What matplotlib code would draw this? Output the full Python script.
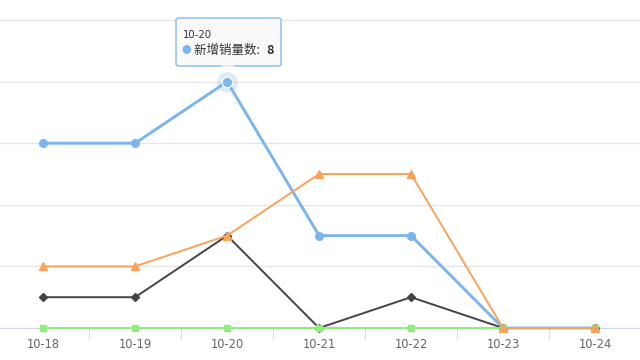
import matplotlib.pyplot as plt
from matplotlib.patches import FancyBboxPatch, Polygon
import numpy as np

plt.rcParams['font.family'] = ['Noto Sans CJK SC', 'DejaVu Sans']

dates = ['10-18', '10-19', '10-20', '10-21', '10-22', '10-23', '10-24']
new_sales = [6, 6, 8, 3, 3, 0, 0]
series_dark = [1, 1, 3, 0, 1, 0, 0]
series_green = [0, 0, 0, 0, 0, 0, 0]
series_orange = [2, 2, 3, 5, 5, 0, 0]
hover_idx = 2

W, H = 640, 360
fig = plt.figure(figsize=(W / 100, H / 100), dpi=100)
ax = fig.add_axes([0, 1 - 328 / H, 1, 328 / H])
x = np.arange(len(dates))

# highcharts draw order: blue, dark, green, orange
ax.plot(x, new_sales, color='#7cb5ec', lw=2.1, marker='o', ms=5.5, zorder=3, clip_on=False)
ax.plot(x, series_dark, color='#434348', lw=1.4, marker='D', ms=3.8, zorder=4, clip_on=False)
ax.plot(x, series_green, color='#90ed7d', lw=1.4, marker='s', ms=5, zorder=5, clip_on=False)
ax.plot(x, series_orange, color='#f7a35c', lw=1.4, marker='^', ms=5.5, zorder=6, clip_on=False)
# hover halo
ax.plot(x[hover_idx], new_sales[hover_idx], 'o', ms=15, color='#7cb5ec',
        alpha=0.25, mec='none', zorder=6.5)
ax.plot(x[hover_idx], new_sales[hover_idx], 'o', ms=7.5, color='#7cb5ec',
        mec='white', mew=0.8, zorder=7)

ax.set_xlim(-0.47, 6.49)
ax.set_ylim(0, 10.65)
ax.set_yticks([0, 2, 4, 6, 8, 10])
ax.yaxis.grid(True, color='#e6e6e6', lw=1)
ax.set_axisbelow(True)
ax.tick_params(axis='y', left=False, labelleft=False)
for s in ['top', 'left', 'right']:
    ax.spines[s].set_visible(False)
ax.spines['bottom'].set_color('#ccd6eb')

ax.set_xticks(x)
ax.set_xticklabels(dates, color='#666666', fontsize=8.3, family='DejaVu Sans')
ax.tick_params(axis='x', length=0, pad=7)
ax.set_xticks(x[:-1] + 0.5, minor=True)
ax.tick_params(axis='x', which='minor', length=8, color='#ccd6eb', direction='out')

# tooltip
def fx(px):
    return px / W

def fy(py):
    return 1 - py / H

box = FancyBboxPatch((fx(176), fy(66)), fx(281) - fx(176), fy(18) - fy(66),
                     boxstyle='round,pad=0,rounding_size=0.005',
                     transform=fig.transFigure, facecolor='#f9f9f9',
                     edgecolor='#7cb5ec', lw=1, alpha=0.95, zorder=10)
fig.patches.append(box)
tip = Polygon([(fx(221), fy(65.5)), (fx(228), fy(72)), (fx(235), fy(65.5))],
              closed=True, transform=fig.transFigure, facecolor='#f9f9f9',
              edgecolor='none', zorder=11)
fig.patches.append(tip)
fig.text(fx(183), fy(35), dates[hover_idx], fontsize=7.3, color='#333333',
         va='center', zorder=12, family='DejaVu Sans')
fig.text(fx(182), fy(50), '●', fontsize=7, color='#7cb5ec', va='center', zorder=12)
fig.text(fx(194), fy(50), '新增销量数: ', fontsize=9, color='#333333',
         va='center', zorder=12)
fig.text(fx(266), fy(50), str(new_sales[hover_idx]), fontsize=9, color='#333333',
         va='center', fontweight='bold', zorder=12)

fig.savefig('out.png', dpi=100, facecolor='white')
